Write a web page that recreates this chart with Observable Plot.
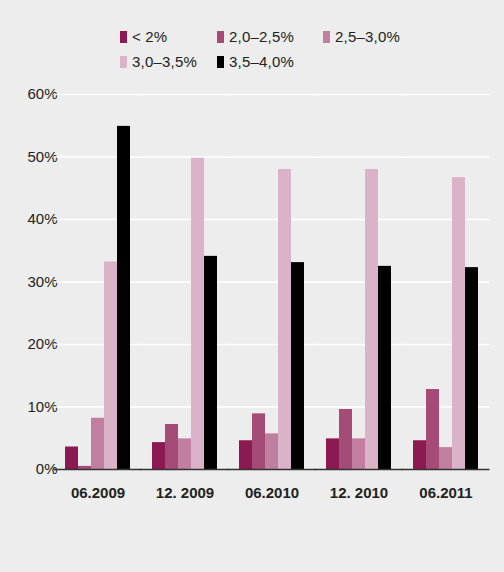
<!DOCTYPE html>
<html>
<head>
<meta charset="utf-8">
<script src="https://cdn.jsdelivr.net/npm/d3@7"></script>
<script src="https://cdn.jsdelivr.net/npm/@observablehq/plot@0.6"></script>
<style>
  html, body { margin: 0; padding: 0; background: #ecedec; width: 504px; height: 572px; overflow: hidden; }
  body { font-family: "Liberation Sans", Arial, sans-serif; color: #222; }
  #legend { position: relative; height: 80px; }
  .item { position: absolute; font-size: 15px; line-height: 15px; white-space: nowrap; letter-spacing: 0.2px; }
  .sw { display: inline-block; width: 7px; height: 12px; margin-right: 5px; vertical-align: -1px; }
  #chart svg { display: block; }
  #chart svg [aria-label^="fx-axis"] text { font-weight: bold; font-size: 15px; }
</style>
</head>
<body>
<div id="legend"></div>
<div id="chart"></div>
<script>
const dates = ["06.2009", "12. 2009", "06.2010", "12. 2010", "06.2011"];
const series = ["< 2%", "2,0–2,5%", "2,5–3,0%", "3,0–3,5%", "3,5–4,0%"];
const colors = ["#8b1a52", "#a54b78", "#c07f9f", "#dbb3c8", "#000000"];
const valsLt2   = [3.6, 4.3, 4.6, 4.9, 4.6];
const vals20_25 = [0.5, 7.2, 8.9, 9.6, 12.8];
const vals25_30 = [8.2, 4.9, 5.7, 4.9, 3.5];
const vals30_35 = [33.2, 49.8, 48.0, 48.0, 46.7];
const vals35_40 = [54.9, 34.1, 33.1, 32.5, 32.3];
const yTicks = [0, 10, 20, 30, 40, 50, 60];

const seriesValues = [valsLt2, vals20_25, vals25_30, vals30_35, vals35_40];
const data = [];
dates.forEach((d, i) => series.forEach((s, j) => data.push({date: d, series: s, value: seriesValues[j][i]})));

// legend
const legendPos = [[120, 29], [217, 29], [323, 29], [120, 54], [217, 54]];
const legend = document.getElementById("legend");
series.forEach((s, j) => {
  const el = document.createElement("div");
  el.className = "item";
  el.style.left = legendPos[j][0] + "px";
  el.style.top = legendPos[j][1] + "px";
  el.innerHTML = `<span class="sw" style="background:${colors[j]}"></span>${s}`;
  legend.appendChild(el);
});

const chart = Plot.plot({
  width: 504,
  height: 430,
  marginTop: 14,
  marginBottom: 41,
  marginLeft: 53,
  marginRight: 15,
  style: {background: "transparent", fontSize: "15px", fontFamily: "'Liberation Sans', Arial, sans-serif", color: "#222"},
  fx: {domain: dates, paddingInner: 0.23, paddingOuter: 0.12, label: null, tickSize: 0, tickPadding: 18},
  x: {domain: series, axis: null, padding: 0},
  y: {domain: [0, 60], ticks: yTicks, tickFormat: d => d + "%", label: null, tickSize: 0, tickPadding: 7},
  color: {domain: series, range: colors},
  marks: [
    Plot.ruleY(yTicks.filter(t => t > 0), {stroke: "white", strokeWidth: 1.5, insetLeft: -10.5, insetRight: -10.5}),
    Plot.barY(data, {fx: "date", x: "series", y: "value", fill: "series"}),
    Plot.ruleY([0], {stroke: "#333", strokeWidth: 1.5, insetLeft: -10.5, insetRight: -10.5})
  ]
});
document.getElementById("chart").appendChild(chart);
</script>
</body>
</html>
